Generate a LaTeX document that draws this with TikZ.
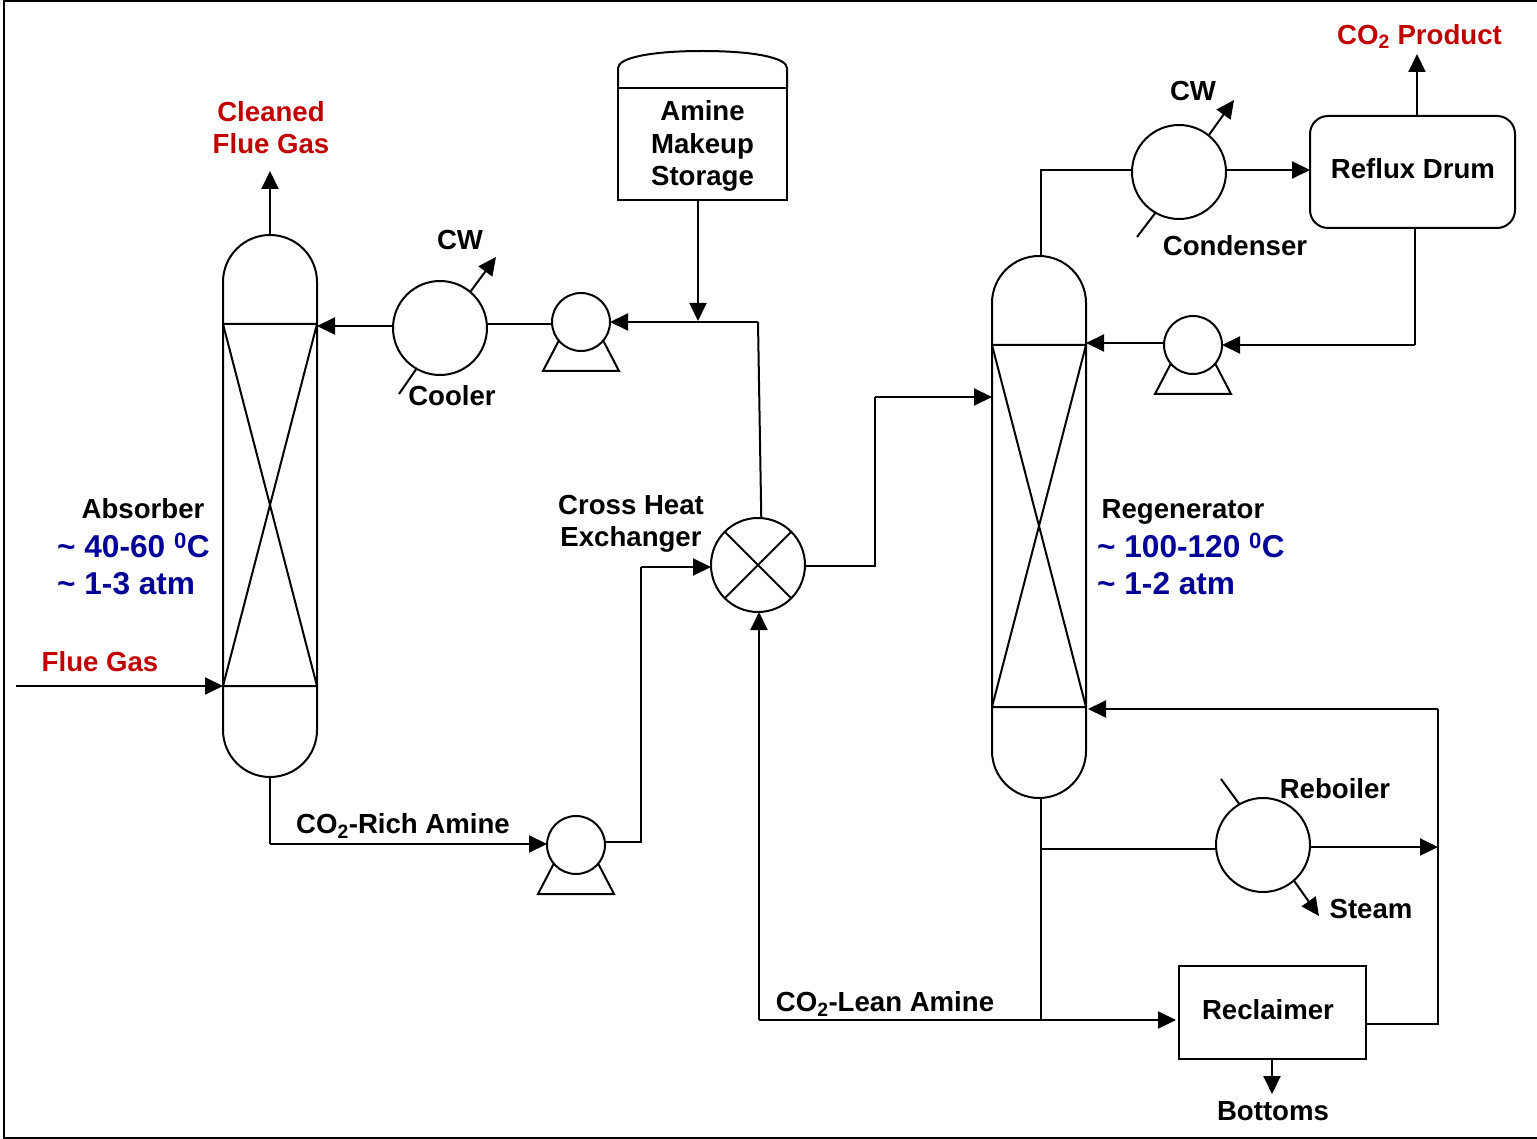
\documentclass[tikz,border=0pt]{standalone}
\usepackage{fontspec}
\setmainfont{Liberation Sans}
\usetikzlibrary{arrows.meta,calc}
\definecolor{redt}{RGB}{192,0,0}
\definecolor{bluet}{RGB}{0,0,153}
\tikzset{
  pfd/.style={line width=2pt,draw=black},
  flow/.style={pfd,-{Triangle[length=18pt,width=17pt]},shorten >=0pt},
  column/.style={pfd,rectangle,rounded corners=47pt,minimum width=94pt,minimum height=542pt,inner sep=0pt,outer sep=0pt},
  exch/.style={pfd,circle,minimum size=94pt,inner sep=0pt,outer sep=0pt},
  pumphead/.style={pfd,circle,minimum size=58pt,inner sep=0pt,outer sep=0pt},
  vessel/.style={pfd,rectangle,inner sep=0pt,outer sep=0pt,align=center,font=\lbl},
  lab/.style={font=\lbl,inner sep=0pt,align=center,text=black},
  lred/.style={lab,text=redt},
  lblue/.style={font=\lblb,inner sep=0pt,anchor=west,text=bluet},
}
\newcommand{\lbl}{\fontsize{27.6}{32}\selectfont\bfseries}
\newcommand{\lblb}{\fontsize{31.6}{38}\selectfont\bfseries}
\newcommand{\subtwo}{\textsubscript{2}}
\newcommand{\tildech}{\char"7E\relax}
\begin{document}
\begin{tikzpicture}[x=1pt,y=-1pt]
\useasboundingbox (0,0) rectangle (1537,1139);
\fill[white] (0,0) rectangle (1537,1139);
% frame
\draw[line width=2.5pt] (1537,1) -- (4,1) -- (4,1138) -- (1537,1138);

% equipment
\node[column] (abs) at (270,506) {};
\node[column] (reg) at (1039,527) {};
\node[exch] (cooler) at (440,328) {};
\node[exch] (cond) at (1179,172) {};
\node[exch] (reb) at (1263,845) {};
\node[exch] (hx) at (758,565) {};
\node[pumphead] (p1) at (581,322) {};
\node[pumphead] (p2) at (1193,345) {};
\node[pumphead] (p3) at (576,845) {};
\node[vessel,minimum width=169pt,minimum height=112pt] (tank) at (702.5,144) {};
\node[vessel,rounded corners=18pt,minimum width=205pt,minimum height=112pt] (drum) at (1412.5,172) {};
\node[vessel,minimum width=187pt,minimum height=93pt] (recl) at (1272.5,1012.5) {};

% column internals
\foreach \c/\t/\b in {abs/324/686,reg/345/707}{
  \coordinate (\c tl) at (\c.west |- 0,\t);
  \coordinate (\c tr) at (\c.east |- 0,\t);
  \coordinate (\c bl) at (\c.west |- 0,\b);
  \coordinate (\c br) at (\c.east |- 0,\b);
  \draw[pfd] (\c tl) -- (\c tr) (\c bl) -- (\c br) (\c tl) -- (\c br) (\c tr) -- (\c bl);
}
% exchanger cross
\draw[pfd] (hx.45) -- (hx.225) (hx.135) -- (hx.-45);
% tank dome
\draw[pfd] (tank.north west) -- ++(0,-20) .. controls ++(0,-10) and (650,51) .. (702.5,51)
  .. controls (755,51) and (787,58) .. ($(tank.north east)+(0,-20)$) -- (tank.north east);
% pump bases
\coordinate (p1l) at (543,371); \coordinate (p1r) at (619,371);
\coordinate (p2l) at (1155,394); \coordinate (p2r) at (1231,394);
\coordinate (p3l) at (538,894); \coordinate (p3r) at (614,894);
\draw[pfd] (p1.-140) -- (p1l) -- (p1r) -- (p1.-40);
\draw[pfd] (p2.-140) -- (p2l) -- (p2r) -- (p2.-40);
\draw[pfd] (p3.-140) -- (p3l) -- (p3r) -- (p3.-40);

% free ends
\coordinate (fluein) at (16,686);
\coordinate (cleanend) at (270,171);
\coordinate (cwA) at (496,257);
\coordinate (tickA) at (399,394);
\coordinate (cwB) at (1234,100);
\coordinate (tickB) at (1137,237);
\coordinate (tickC) at (1221,779);
\coordinate (steam) at (1319,916);
\coordinate (prod) at (1417,54);
\coordinate (bott) at (1272,1094);
\coordinate (richcorner) at (270,844);
\coordinate (junA) at (641,842);
\coordinate (junB) at (641,567);
\coordinate (junC) at (875,566);
\coordinate (junD) at (875,397);
\coordinate (junE) at (758,322);
\coordinate (leantee) at (1041,1020);
\coordinate (rebtee) at (1041,849);
\coordinate (ovhd) at (1041,170);
\coordinate (drumdown) at (1415,345);
\coordinate (recyA) at (1438,1024);
\coordinate (recyB) at (1438,709);
\coordinate (rebout) at (1438,847);
\coordinate (leancorner) at (759,1020);

% connectors
\draw[flow] (abs.north) -- (cleanend);
\draw[flow] (fluein) -- (absbl);
\draw[pfd] (abs.south) -- (richcorner);
\draw[flow] (richcorner) -- (p3.west |- richcorner);
\draw[pfd] (p3.east |- junA) -- (junA) -- (junB);
\draw[flow] (junB) -- (hx.west |- junB);
\draw[pfd] (hx.east |- junC) -- (junC) -- (junD);
\draw[flow] (junD) -- (reg.west |- junD);
\draw[pfd] (hx.86) -- (junE);
\draw[flow] (junE) -- (p1.east);
\draw[pfd] (p1.west |- 0,324) -- (cooler.east |- 0,324);
\draw[flow] (cooler.west |- 0,326) -- (abs.east |- 0,326);
\draw[flow] (cooler.50) -- (cwA);
\draw[pfd] (cooler.240) -- (tickA);
\draw[flow] (tank.south -| 698,0) -- (698,321);
\draw[pfd] (reg.north -| ovhd) -- (ovhd) -- (cond.west |- ovhd);
\draw[flow] (cond.east |- ovhd) -- (drum.west |- ovhd);
\draw[flow] (cond.51) -- (cwB);
\draw[pfd] (cond.240) -- (tickB);
\draw[flow] (drum.north -| prod) -- (prod);
\draw[pfd] (drum.south -| drumdown) -- (drumdown);
\draw[flow] (drumdown) -- (p2.east);
\draw[flow] (p2.west |- 0,343) -- (reg.east |- 0,343);
\draw[pfd] (reg.south -| leantee) -- (leantee);
\draw[pfd] (rebtee) -- (reb.west |- rebtee);
\draw[flow] (reb.east |- rebout) -- (rebout);
\draw[pfd] (reb.120) -- (tickC);
\draw[flow] (reb.-49) -- (steam);
\draw[pfd] (leantee) -- (leancorner);
\draw[flow] (leancorner) -- (hx.south -| leancorner);
\draw[flow] (leantee) -- (1176,1020);
\draw[pfd] (recl.east |- recyA) -- (recyA) -- (recyB);
\draw[flow] (recyB) -- (1088,709);
\draw[flow] (recl.south -| bott) -- (bott);

% labels
\node[lab] (ttank) at (702.5,146) {Amine\\[0.5pt]Makeup\\[0.5pt]Storage};
\node[lab] (tdrum) at (1413,169) {Reflux Drum};
\node[lab] (trecl) at (1268,1010) {Reclaimer};
\node[lred] (tclean) at (271,127.5) {Cleaned\\[0pt]Flue Gas};
\node[lred] (tprod) at (1419.5,36.5) {CO\subtwo{} Product};
\node[lred] (tflue) at (100,662) {Flue Gas};
\node[lab] (tabs) at (143,509) {Absorber};
\node[lblue] (tabs1) at (57,545) {\tildech{} 40-60 \textsuperscript{0}C};
\node[lblue] (tabs2) at (57,584) {\tildech{} 1-3 atm};
\node[lab] (tcw1) at (460,240) {CW};
\node[lab] (tcool) at (452,396) {Cooler};
\node[lab] (thx) at (631,524) {Cross Heat\\[-0.5pt]Exchanger};
\node[lab] (trich) at (403,826) {CO\subtwo-Rich Amine};
\node[lab] (tlean) at (885,1004) {CO\subtwo-Lean Amine};
\node[lab] (tcw2) at (1193,91) {CW};
\node[lab] (tcond) at (1235,246) {Condenser};
\node[lab] (treg) at (1183,512) {Regenerator};
\node[lblue] (treg1) at (1097,545) {\tildech{} 100-120 \textsuperscript{0}C};
\node[lblue] (treg2) at (1097,584) {\tildech{} 1-2 atm};
\node[lab] (treb) at (1335,789) {Reboiler};
\node[lab] (tsteam) at (1371,909) {Steam};
\node[lab] (tbott) at (1273,1111) {Bottoms};
\end{tikzpicture}
\end{document}
